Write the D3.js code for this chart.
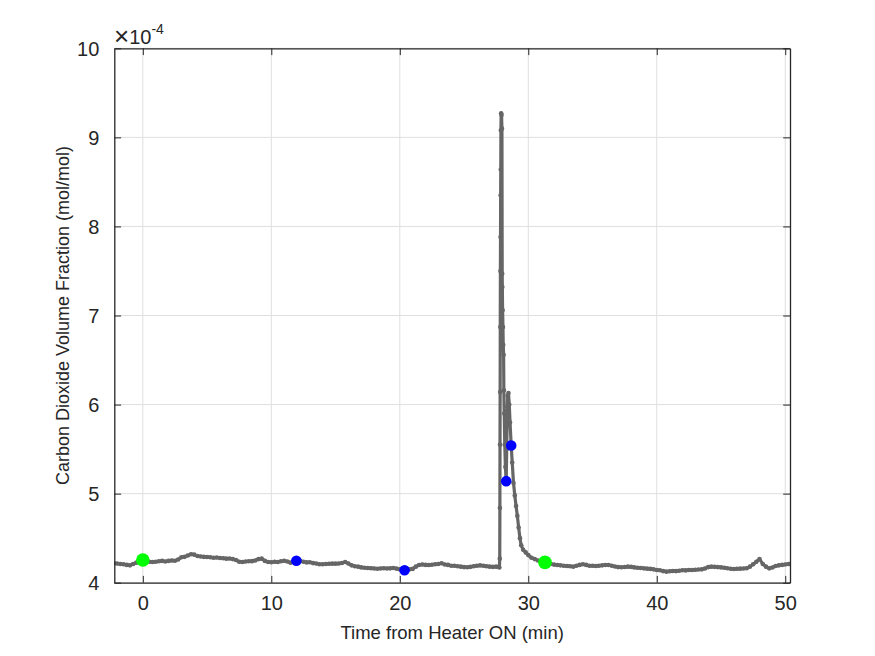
<!DOCTYPE html>
<html><head><meta charset="utf-8">
<script src="https://cdn.jsdelivr.net/npm/d3@7"></script>
<style>body{margin:0;background:#fff}svg{display:block}text{font-family:"Liberation Sans",Arial,sans-serif;fill:#262626}</style>
</head><body>
<svg id="c" width="875" height="656"></svg>
<script>
// CO2 volume fraction (×1e-4 mol/mol) vs time from heater ON (min)
const preStart = -2.25, preStep = 0.25;
const preValues = [4.218,4.215,4.21,4.207,4.2,4.195,4.21,4.225,4.24,4.255,4.245,4.235,4.232,4.235,4.24,4.245,4.238,4.245,4.25,4.247,
4.26,4.285,4.29,4.305,4.32,4.315,4.3,4.295,4.29,4.288,4.285,4.28,4.283,4.277,4.275,4.27,4.272,4.265,4.255,4.235,
4.232,4.238,4.24,4.242,4.25,4.265,4.27,4.245,4.232,4.23,4.235,4.232,4.24,4.247,4.238,4.225,4.235,4.247,4.245,4.235,
4.228,4.229,4.22,4.215,4.207,4.207,4.21,4.212,4.214,4.214,4.215,4.222,4.232,4.215,4.195,4.185,4.18,4.172,4.168,4.165,
4.163,4.16,4.157,4.16,4.162,4.16,4.161,4.165,4.158,4.15,4.14,4.145,4.15,4.155,4.18,4.199,4.205,4.2,4.198,4.202,
4.207,4.21,4.218,4.205,4.2,4.191,4.19,4.185,4.18,4.175,4.173,4.178,4.185,4.19,4.195,4.19,4.185,4.18,4.178,4.18,4.17];
const spikeTimes = [27.78,27.79,27.80,27.81,27.82,27.83,27.84,27.85,27.86,27.87,27.89,27.92,27.95,27.97,27.98,28.0,28.03,28.05,28.08,28.10,
28.13,28.17,28.22,28.28,28.32,28.36,28.40,28.46,28.52,28.58,28.67,28.75,28.85,28.95,29.05,29.15,29.25,29.35,29.45,29.6,
29.8,30.0,30.25,30.5,30.75,31.0,31.3];
const spikeValues = [4.27,4.84,5.55,6.14,6.87,7.5,7.88,8.35,8.64,9.08,9.27,9.25,9.1,7.47,7.32,7.06,6.87,6.67,6.56,6.16,
5.9,5.55,5.3,5.14,5.5,5.9,6.1,6.13,6.0,5.8,5.54,5.35,5.12,4.98,4.86,4.75,4.62,4.5,4.42,4.37,
4.34,4.31,4.28,4.265,4.25,4.24,4.228];
const postStart = 31.5, postStep = 0.25;
const postValues = [4.22,4.21,4.203,4.199,4.195,4.19,4.188,4.185,4.18,4.19,4.2,4.207,4.2,4.19,4.19,4.187,4.19,4.195,4.198,4.199,
4.19,4.182,4.175,4.173,4.176,4.18,4.178,4.172,4.168,4.165,4.161,4.158,4.155,4.15,4.143,4.14,4.13,4.124,4.128,4.132,
4.13,4.135,4.14,4.138,4.142,4.143,4.145,4.148,4.15,4.16,4.175,4.18,4.178,4.175,4.172,4.168,4.162,4.157,4.154,4.156,
4.158,4.16,4.163,4.18,4.207,4.235,4.266,4.21,4.18,4.161,4.17,4.187,4.195,4.2,4.205,4.21];
const greenTimes = [0, 31.3], greenValues = [4.255, 4.228];
const blueTimes = [11.95, 20.37, 28.28, 28.67], blueValues = [4.247, 4.139, 5.14, 5.54];
const xTicks = [0,10,20,30,40,50];
const yTicks = [4,5,6,7,8,9,10];
const xLabel = "Time from Heater ON (min)";
const yLabel = "Carbon Dioxide Volume Fraction (mol/mol)";

const data = [];
preValues.forEach((v,i)=>data.push([preStart+i*preStep, v]));
spikeValues.forEach((v,i)=>data.push([spikeTimes[i], v]));
postValues.forEach((v,i)=>data.push([postStart+i*postStep, v]));

const L=114.3, R=790, T=48.3, B=582.7;
const x = d3.scaleLinear().domain([-2.22,50.37]).range([L,R]);
const y = d3.scaleLinear().domain([4,10]).range([B,T]);
const svg = d3.select("#c");
const axisCol = "#262626";

// grid
svg.append("g").selectAll("line").data(xTicks).join("line")
  .attr("x1",d=>x(d)).attr("x2",d=>x(d)).attr("y1",T).attr("y2",B)
  .attr("stroke","#dfdfdf").attr("stroke-width",1);
svg.append("g").selectAll("line").data(yTicks).join("line")
  .attr("x1",L).attr("x2",R).attr("y1",d=>y(d)).attr("y2",d=>y(d))
  .attr("stroke","#dfdfdf").attr("stroke-width",1);

// data line
svg.append("clipPath").attr("id","cp").append("rect").attr("x",L).attr("y",T).attr("width",R-L).attr("height",B-T);
const g = svg.append("g").attr("clip-path","url(#cp)");
g.append("path").datum(data)
  .attr("d", d3.line().x(d=>x(d[0])).y(d=>y(d[1])))
  .attr("fill","none").attr("stroke","#666666").attr("stroke-width",3.2).attr("stroke-linejoin","round");
g.append("g").selectAll("circle").data(data).join("circle")
  .attr("cx",d=>x(d[0])).attr("cy",d=>y(d[1])).attr("r",2.3).attr("fill","#666666");

// event markers
g.append("g").selectAll("circle").data(greenTimes.map((t,i)=>[t,greenValues[i]])).join("circle")
  .attr("cx",d=>x(d[0])).attr("cy",d=>y(d[1])).attr("r",6.8).attr("fill","#00ff00");
g.append("g").selectAll("circle").data(blueTimes.map((t,i)=>[t,blueValues[i]])).join("circle")
  .attr("cx",d=>x(d[0])).attr("cy",d=>y(d[1])).attr("r",5.3).attr("fill","#0000ff");

// axes
const tl = 6.8;
const fs = 20;
const xb = svg.append("g").attr("transform",`translate(0,${B})`)
  .call(d3.axisBottom(x).tickValues(xTicks).tickSizeInner(-tl).tickSizeOuter(0).tickPadding(13).tickFormat(d3.format("d")));
const xt = svg.append("g").attr("transform",`translate(0,${T})`)
  .call(d3.axisTop(x).tickValues(xTicks).tickSizeInner(-tl).tickSizeOuter(0).tickFormat(""));
const yl = svg.append("g").attr("transform",`translate(${L},0)`)
  .call(d3.axisLeft(y).tickValues(yTicks).tickSizeInner(-tl).tickSizeOuter(0).tickPadding(15).tickFormat(d3.format("d")));
const yr = svg.append("g").attr("transform",`translate(${R},0)`)
  .call(d3.axisRight(y).tickValues(yTicks).tickSizeInner(-tl).tickSizeOuter(0).tickFormat(""));
[xb,xt,yl,yr].forEach(a=>{
  a.select(".domain").attr("stroke",axisCol).attr("stroke-width",1.3);
  a.selectAll(".tick line").attr("stroke",axisCol).attr("stroke-width",1);
  a.selectAll(".tick text").attr("font-size",fs).attr("font-family","Liberation Sans, Arial, sans-serif").attr("fill",axisCol);
});
xb.selectAll(".tick text").attr("dy","0.71em");
yl.selectAll(".tick text").attr("dy","0.35em");

// exponent
const ex = svg.append("text").attr("x",114).attr("y",44).attr("font-size",fs);
ex.append("tspan").attr("font-size",26).attr("dy",1).text("\u00d7");
ex.append("tspan").attr("font-size",fs).attr("dy",-1).text("10");
ex.append("tspan").attr("font-size",14).attr("dy",-10).text("-4");

// labels
svg.append("text").attr("x",(L+R)/2).attr("y",639).attr("text-anchor","middle").attr("font-size",18.5).text(xLabel);
svg.append("text").attr("transform",`translate(69,${(T+B)/2}) rotate(-90)`).attr("text-anchor","middle").attr("font-size",18).text(yLabel);
</script>
</body></html>
